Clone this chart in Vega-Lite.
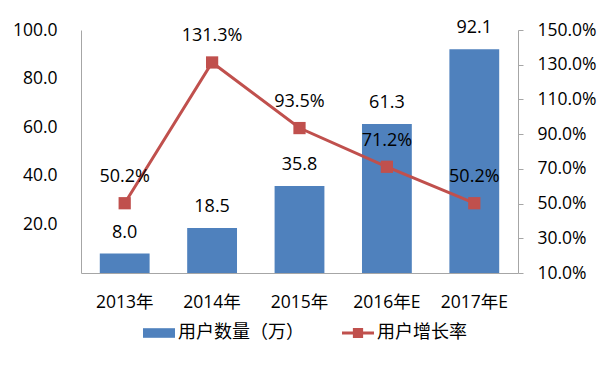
{
  "$schema": "https://vega.github.io/schema/vega-lite/v6.json",
  "autosize": "none",
  "width": 437,
  "height": 243,
  "padding": {"left": 81, "top": 30, "right": 87, "bottom": 112},
  "background": "white",
  "config": {
    "font": "Open Sans, Noto Sans CJK SC",
    "view": {"stroke": null},
    "axis": {"labelFont": "Open Sans, Noto Sans CJK SC", "labelFontSize": 17.5, "labelColor": "#000", "grid": false, "domainColor": "#A6A6A6", "tickColor": "#A6A6A6", "title": null}
  },
  "data": {
    "values": [
      {"year": "2013年", "users": 8.0, "growth": 0.502},
      {"year": "2014年", "users": 18.5, "growth": 1.313},
      {"year": "2015年", "users": 35.8, "growth": 0.935},
      {"year": "2016年E", "users": 61.3, "growth": 0.712},
      {"year": "2017年E", "users": 92.1, "growth": 0.502}
    ]
  },
  "encoding": {
    "x": {
      "field": "year", "type": "nominal", "sort": null,
      "scale": {"paddingInner": 0.43, "paddingOuter": 0.215},
      "axis": {"labelAngle": 0, "ticks": false, "labelPadding": 20, "domainWidth": 1}
    }
  },
  "layer": [
    {
      "encoding": {
        "y": {
          "field": "users", "type": "quantitative",
          "scale": {"domain": [0, 100]},
          "axis": {"orient": "left", "values": [0, 20, 40, 60, 80, 100], "labelExpr": "datum.value == 0 ? '' : format(datum.value, '.1f')", "ticks": false, "labelPadding": 24}
        }
      },
      "layer": [
        {
          "mark": {"type": "bar"},
          "encoding": {
            "color": {
              "datum": "用户数量（万）",
              "type": "nominal",
              "scale": {"domain": ["用户数量（万）", "用户增长率"], "range": ["#4F81BD", "#C0504D"]},
              "legend": {
                "title": null,
                "orient": "none",
                "direction": "horizontal",
                "legendX": 62,
                "legendY": 287,
                "labelFont": "Noto Sans CJK SC",
                "labelFontSize": 18,
                "labelColor": "#000",
                "symbolSize": 1024,
                "labelOffset": 3,
                "columnPadding": 38,
                "labelLimit": 300,
                "encode": {
                  "symbols": {
                    "update": {
                      "shape": {"signal": "datum.value == '用户数量（万）' ? 'M-1,-0.3H1V0.3H-1Z' : 'M-1,-0.09H1V0.09H-1Z M-0.32,-0.32H0.32V0.32H-0.32Z'"},
                      "fill": {"signal": "scale('color', datum.value)"},
                      "stroke": {"value": "transparent"},
                      "strokeWidth": {"value": 0},
                      "opacity": {"value": 1}
                    }
                  }
                }
              }
            }
          }
        },
        {
          "mark": {"type": "text", "dy": -21, "baseline": "middle", "fontSize": 18, "color": "#000", "font": "Open Sans"},
          "encoding": {"text": {"field": "users", "type": "quantitative", "format": ".1f"}}
        }
      ]
    },
    {
      "encoding": {
        "y": {
          "field": "growth", "type": "quantitative",
          "scale": {"domain": [0.1, 1.5]},
          "axis": {"orient": "right", "values": [0.1, 0.3, 0.5, 0.7, 0.9, 1.1, 1.3, 1.5], "format": ".1%", "ticks": true, "tickSize": 5, "labelPadding": 14}
        }
      },
      "layer": [
        {
          "mark": {"type": "line", "strokeWidth": 3, "point": {"shape": "square", "size": 150, "filled": true, "opacity": 1}},
          "encoding": {
            "color": {"datum": "用户增长率", "type": "nominal"}
          }
        },
        {
          "mark": {"type": "text", "dy": -26, "baseline": "middle", "fontSize": 18, "color": "#000", "font": "Open Sans"},
          "encoding": {"text": {"field": "growth", "type": "quantitative", "format": ".1%"}}
        }
      ]
    }
  ],
  "resolve": {"scale": {"y": "independent"}}
}
